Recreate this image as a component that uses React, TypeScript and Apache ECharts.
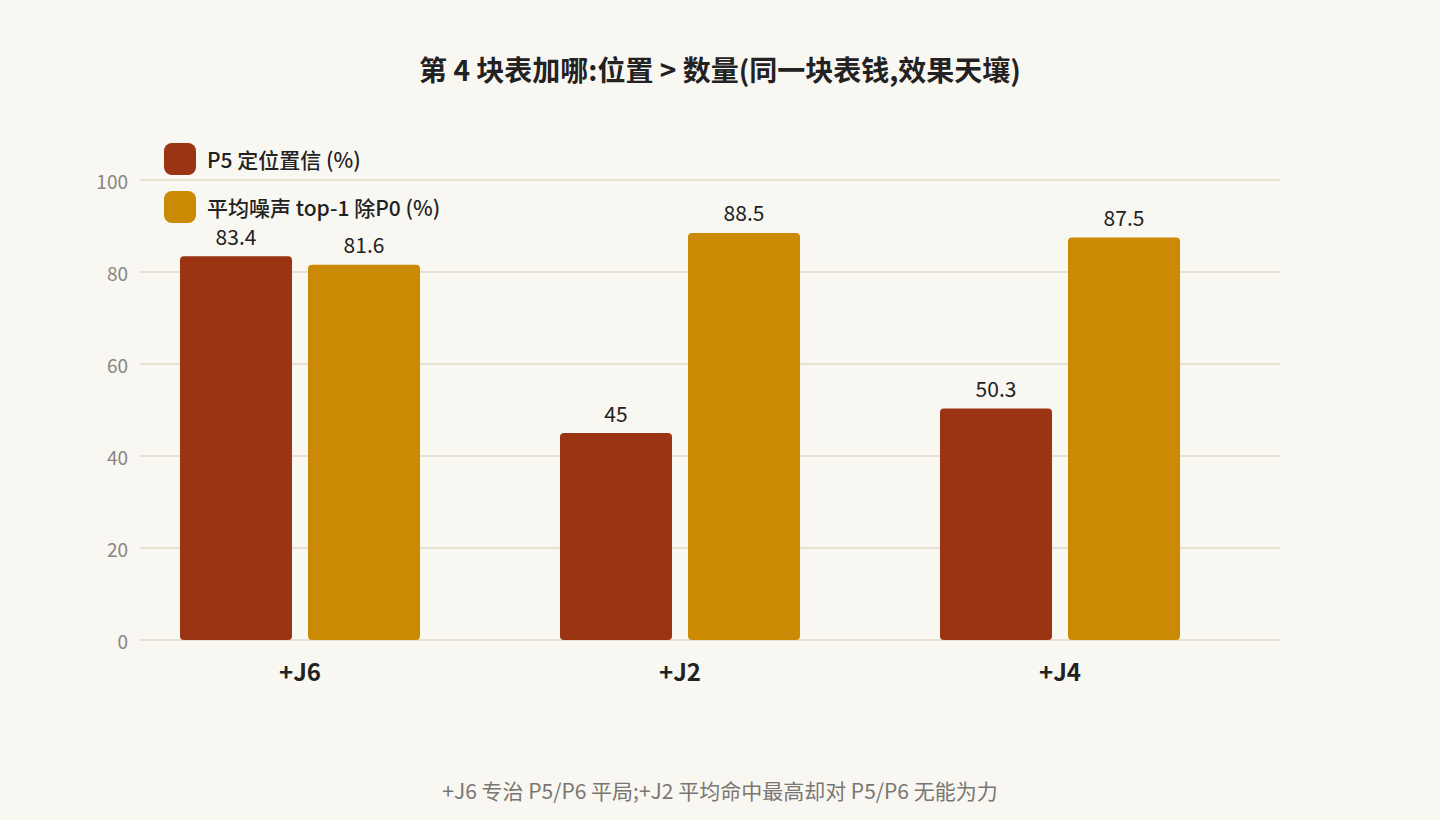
import { useEffect, useRef } from 'react'
import * as echarts from 'echarts'

const categories = ['+J6', '+J2', '+J4']
const p5Conf = [83.4, 45, 50.3]
const noiseTop1 = [81.6, 88.5, 87.5]
const yTicks = [0, 20, 40, 60, 80, 100]

const FONT = '"Noto Sans CJK SC", "Noto Sans", sans-serif'

export default function App() {
  const chartRef = useRef<HTMLDivElement | null>(null)

  useEffect(() => {
    if (!chartRef.current) return
    const chart = echarts.init(chartRef.current, null, { renderer: 'svg' })

    const valueLabel = {
      show: true,
      position: 'top',
      distance: 10,
      color: '#222',
      fontSize: 21,
      lineHeight: 21,
      fontFamily: FONT
    }

    chart.setOption({
      animation: false,
      backgroundColor: '#f9f7f2',
      textStyle: { fontFamily: FONT },
      title: [
        {
          text: '第 4 块表加哪:位置 > 数量(同一块表钱,效果天壤)',
          left: 'center',
          top: 50,
          textStyle: { fontSize: 28, fontWeight: 'bold', color: '#222', fontFamily: FONT }
        },
        {
          text: '+J6 专治 P5/P6 平局;+J2 平均命中最高却对 P5/P6 无能为力',
          left: 'center',
          top: 774,
          textStyle: { fontSize: 21, fontWeight: 'normal', color: '#7a7672', fontFamily: FONT }
        }
      ],
      legend: {
        orient: 'vertical',
        left: 164,
        top: 143,
        padding: 0,
        itemWidth: 32,
        itemHeight: 32,
        itemGap: 16,
        icon: 'roundRect',
        textStyle: {
          fontSize: 21,
          lineHeight: 22,
          color: '#222',
          fontWeight: 500,
          fontFamily: FONT,
          padding: [0, 0, 0, 6]
        },
        data: ['P5 定位置信 (%)', '平均噪声 top-1 除P0 (%)']
      },
      grid: [
        { left: 140, right: 160, top: 180, bottom: 180 },
        { left: 110, right: 190, top: 180, bottom: 180 }
      ],
      xAxis: [
        { type: 'category', gridIndex: 0, data: categories, show: false },
        {
          type: 'category',
          gridIndex: 1,
          data: categories,
          axisLine: { show: false },
          axisTick: { show: false },
          axisLabel: { color: '#222', fontSize: 24, fontWeight: 'bold', margin: 18, fontFamily: FONT }
        }
      ],
      yAxis: [
        {
          type: 'value',
          gridIndex: 0,
          min: yTicks[0],
          max: yTicks[yTicks.length - 1],
          interval: 20,
          axisLine: { show: false },
          axisTick: { show: false },
          axisLabel: { color: '#8a8580', fontSize: 19, margin: 12, fontFamily: FONT },
          splitLine: { lineStyle: { color: '#e8e1d4', width: 2 } }
        },
        {
          type: 'value',
          gridIndex: 1,
          min: 0,
          max: 100,
          interval: 20,
          show: false,
          splitLine: { show: false }
        }
      ],
      series: [
        {
          name: 'P5 定位置信 (%)',
          type: 'bar',
          xAxisIndex: 1,
          yAxisIndex: 1,
          data: p5Conf,
          barWidth: 112,
          barGap: '14.3%',
          itemStyle: { color: '#9a3412', borderRadius: 4 },
          label: valueLabel
        },
        {
          name: '平均噪声 top-1 除P0 (%)',
          type: 'bar',
          xAxisIndex: 1,
          yAxisIndex: 1,
          data: noiseTop1,
          barWidth: 112,
          itemStyle: { color: '#ca8a04', borderRadius: 4 },
          label: valueLabel
        }
      ]
    })

    return () => chart.dispose()
  }, [])

  return <div ref={chartRef} style={{ position: 'fixed', left: 0, top: 0, width: 1440, height: 820 }} />
}
